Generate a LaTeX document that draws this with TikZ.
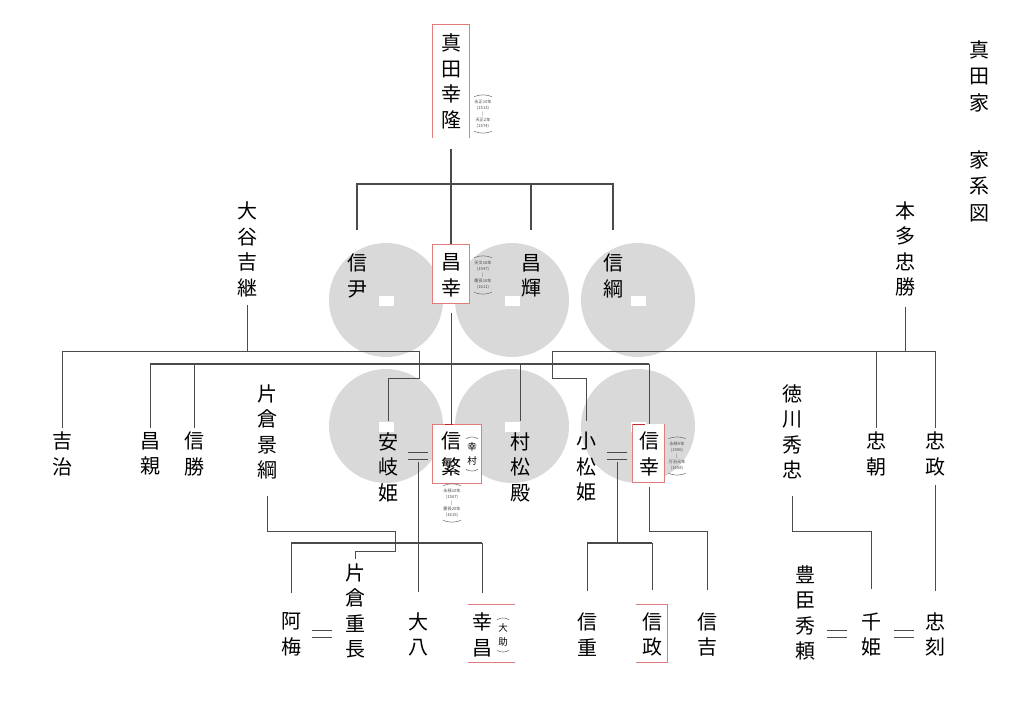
\documentclass[tikz,border=0pt]{standalone}
\usepackage{fontspec}
\newfontfamily\jpfont{Noto Sans CJK JP}
\definecolor{disc}{HTML}{D9D9D9}
\definecolor{boxred}{HTML}{E27B7B}
\definecolor{deepred}{HTML}{C62828}
\definecolor{linegray}{HTML}{4A4A4A}

\begin{document}
\begin{tikzpicture}[x=1pt,y=-1pt,
  every node/.style={inner sep=0pt},
  person/.style={font=\jpfont\fontsize{20}{25.5}\selectfont, align=center},
  heading/.style={font=\jpfont\fontsize{20}{26.5}\selectfont, align=center},
  years/.style={font=\jpfont\fontsize{4.2}{6}\selectfont, align=center, text=black!70},
  altname/.style={font=\jpfont\fontsize{9.5}{13.5}\selectfont, align=center},
  kin/.style={draw=linegray, line width=0.9pt},
  fork/.style={draw=linegray, line width=1.7pt},
  curl/.style={draw=black!60, line width=0.5pt},
  redline/.style={draw=boxred, line width=1pt},
  wed/.style={minimum width=20pt, minimum height=6pt,
    append after command={(\tikzlastnode.north west) edge[kin] (\tikzlastnode.north east)
      (\tikzlastnode.south west) edge[kin] (\tikzlastnode.south east)}}]
\useasboundingbox (0,0) rectangle (1024,727);
\fill[white] (0,0) rectangle (1024,727);

\fill[disc] (386,300) circle (57pt);
\fill[disc] (512,300) circle (57pt);
\fill[disc] (638,300) circle (57pt);
\fill[disc] (386,426) circle (57pt);
\fill[disc] (512,426) circle (57pt);
\fill[disc] (638,426) circle (57pt);
\fill[white] (378.5,296) rectangle (393.5,306);
\fill[white] (504.5,296) rectangle (519.5,306);
\fill[white] (630.5,296) rectangle (645.5,306);
\fill[white] (378.5,422) rectangle (393.5,432);
\fill[white] (504.5,422) rectangle (519.5,432);
\fill[white] (630.5,422) rectangle (645.5,432);

\draw[redline] (432,138) -- (432,25) -- (469,25) -- (469,138);
\filldraw[redline, fill=white] (432,244) rectangle (469,303);
\filldraw[redline, fill=white] (432,424) rectangle (481,483);
\draw[deepred, line width=1pt] (445,424) -- (453,424);
\fill[white] (632,424) rectangle (664,482);
\draw[redline] (645,424) -- (632,424) -- (632,482) -- (664,482) -- (664,424);
\draw[deepred, line width=1pt] (633,424) -- (645,424);
\draw[redline] (468,604) -- (515,604) (468,662) -- (515,662);
\draw[redline] (636,604) -- (667,604) -- (667,662) -- (636,662);

\node[heading] (kamon) at (979,76) {真\\田\\家};
\node[heading] (keizu) at (979,186) {家\\系\\図};

\node[person] (yukitaka) at (451,81.5) {真\\田\\幸\\隆};
\node[years] (yrs1) at (483,114) {永正10年\\(1513)\\|\\天正2年\\(1574)};

\node[person] (yoshitsugu) at (247,249.5) {大\\谷\\吉\\継};
\node[person] (nobutada) at (357,276) {信\\尹};
\node[person] (masayuki) at (451,275.5) {昌\\幸};
\node[years] (yrs2) at (483,275) {天文16年\\(1547)\\|\\慶長16年\\(1611)};
\node[person] (masateru) at (531,276) {昌\\輝};
\node[person] (nobutsuna) at (613,276) {信\\綱};
\node[person] (tadakatsu) at (905,249) {本\\多\\忠\\勝};

\node[person] (yoshiharu) at (62,454) {吉\\治};
\node[person] (masachika) at (150,454) {昌\\親};
\node[person] (nobukatsu) at (194,454) {信\\勝};
\node[person] (kagetsuna) at (267,432) {片\\倉\\景\\綱};
\node[person] (akihime) at (388,467) {安\\岐\\姫};
\node[wed] (eqA) at (418,456) {};
\node[person] (nobushige) at (451,454) {信\\繁};
\node[altname] (yukimuraalt) at (472,454) {幸\\村};
\node[years] (yrs3) at (452,503) {永禄10年\\(1567)\\|\\慶長20年\\(1615)};
\node[person] (muramatsu) at (520,467) {村\\松\\殿};
\node[person] (komatsu) at (586,467) {小\\松\\姫};
\node[wed] (eqB) at (617,456) {};
\node[person] (nobuyuki) at (649,454) {信\\幸};
\node[years] (yrs4) at (677,456) {永禄9年\\(1566)\\|\\万治元年\\(1658)};
\node[person] (hidetada) at (792,432) {徳\\川\\秀\\忠};
\node[person] (tadatomo) at (876,454) {忠\\朝};
\node[person] (tadamasa) at (935,454) {忠\\政};

\node[person] (oume) at (291,634.5) {阿\\梅};
\node[wed] (eqC) at (322,634) {};
\node[person] (shigenaga) at (355,611) {片\\倉\\重\\長};
\node[person] (daihachi) at (418,634.5) {大\\八};
\node[person] (yukimasa) at (482,635) {幸\\昌};
\node[altname] (daisukealt) at (503,635) {大\\助};
\node[person] (nobushige2) at (587,634.5) {信\\重};
\node[person] (nobumasa) at (652,634.5) {信\\政};
\node[person] (nobuyoshi) at (707,634.5) {信\\吉};
\node[person] (hideyori) at (805,613) {豊\\臣\\秀\\頼};
\node[wed] (eqD) at (837,634) {};
\node[person] (senhime) at (871,634.5) {千\\姫};
\node[wed] (eqE) at (904,634) {};
\node[person] (tadatoki) at (935,634.5) {忠\\刻};

\draw[curl] ([yshift=3pt]yrs1.north west) to[bend left=20] ([yshift=3pt]yrs1.north east);
\draw[curl] ([yshift=-3pt]yrs1.south west) to[bend right=20] ([yshift=-3pt]yrs1.south east);
\draw[curl] ([yshift=3pt]yrs2.north west) to[bend left=20] ([yshift=3pt]yrs2.north east);
\draw[curl] ([yshift=-3pt]yrs2.south west) to[bend right=20] ([yshift=-3pt]yrs2.south east);
\draw[curl] ([yshift=3pt]yrs3.north west) to[bend left=20] ([yshift=3pt]yrs3.north east);
\draw[curl] ([yshift=-3pt]yrs3.south west) to[bend right=20] ([yshift=-3pt]yrs3.south east);
\draw[curl] ([yshift=3pt]yrs4.north west) to[bend left=20] ([yshift=3pt]yrs4.north east);
\draw[curl] ([yshift=-3pt]yrs4.south west) to[bend right=20] ([yshift=-3pt]yrs4.south east);
\draw[curl] ([xshift=-1pt,yshift=4pt]yukimuraalt.north west) to[bend left=30] ([xshift=1pt,yshift=4pt]yukimuraalt.north east);
\draw[curl] ([xshift=-1pt,yshift=-4pt]yukimuraalt.south west) to[bend right=30] ([xshift=1pt,yshift=-4pt]yukimuraalt.south east);
\draw[curl] ([xshift=-1pt,yshift=4pt]daisukealt.north west) to[bend left=30] ([xshift=1pt,yshift=4pt]daisukealt.north east);
\draw[curl] ([xshift=-1pt,yshift=-4pt]daisukealt.south west) to[bend right=30] ([xshift=1pt,yshift=-4pt]daisukealt.south east);

\coordinate (top) at (451,184);
\draw[fork] ([yshift=-20pt]yukitaka.south) -- (top);
\draw[fork] ([yshift=24pt]nobutada.north) |- (top) -| ([yshift=24pt]nobutsuna.north);
\draw[fork] (top) -- ([yshift=10pt]masayuki.north);
\draw[fork] (top -| masateru) -- ([yshift=24pt]masateru.north);

\coordinate (mid) at (451,364);
\draw[kin] ([yshift=-16pt]masayuki.south) -- ([yshift=8pt]nobushige.north);
\draw[fork] (masachika |- mid) -- (nobuyuki |- mid);
\draw[kin] (masachika |- mid) -- ([yshift=4pt]masachika.north);
\draw[kin] (nobukatsu |- mid) -- ([yshift=4pt]nobukatsu.north);
\draw[kin] (muramatsu |- mid) -- ([yshift=11pt]muramatsu.north);
\draw[kin] (nobuyuki |- mid) -- ([yshift=8pt]nobuyuki.north);

\coordinate (otani) at (247,351);
\coordinate (otanibend) at (419,378);
\draw[kin] ([yshift=-8pt]yoshitsugu.south) -- (otani);
\draw[kin] ([yshift=4pt]yoshiharu.north) |- (otanibend |- otani) -- (otanibend) -| ([yshift=11pt]akihime.north);

\coordinate (honda) at (905,351);
\coordinate (hondabend) at (552,378);
\draw[kin] ([yshift=-10pt]tadakatsu.south) -- (honda);
\draw[kin] ([yshift=4pt]tadamasa.north) |- (hondabend |- honda) -- (hondabend) -| ([yshift=11pt]komatsu.north);
\draw[kin] (tadatomo |- honda) -- ([yshift=4pt]tadatomo.north);

\coordinate (kata1) at (395,531);
\coordinate (kata2) at (395,551);
\draw[kin] ([yshift=-16pt]kagetsuna.south) |- (kata1) -- (kata2) -| ([yshift=4pt]shigenaga.north);

\coordinate (sanadaA) at (418,543);
\draw[kin] ([yshift=-3pt]eqA.south) -- ([yshift=20pt]daihachi.north);
\draw[fork] (oume |- sanadaA) -- (yukimasa |- sanadaA);
\draw[kin] (oume |- sanadaA) -- ([yshift=20pt]oume.north);
\draw[kin] (yukimasa |- sanadaA) -- ([yshift=20pt]yukimasa.north);

\coordinate (sanadaB) at (617,543);
\draw[kin] ([yshift=-3pt]eqB.south) -- (sanadaB);
\draw[fork] (nobushige2 |- sanadaB) -- (nobumasa |- sanadaB);
\draw[kin] (nobushige2 |- sanadaB) -- ([yshift=22pt]nobushige2.north);
\draw[kin] (nobumasa |- sanadaB) -- ([yshift=22pt]nobumasa.north);
\coordinate (sanadaC) at (649,531);
\draw[kin] ([yshift=-11pt]nobuyuki.south) -- (sanadaC) -| ([yshift=22pt]nobuyoshi.north);

\coordinate (toku) at (871,531);
\draw[kin] ([yshift=-16pt]hidetada.south) |- (toku) -- ([yshift=23pt]senhime.north);
\draw[kin] ([yshift=-9pt]tadamasa.south) -- ([yshift=21pt]tadatoki.north);
\end{tikzpicture}
\end{document}
